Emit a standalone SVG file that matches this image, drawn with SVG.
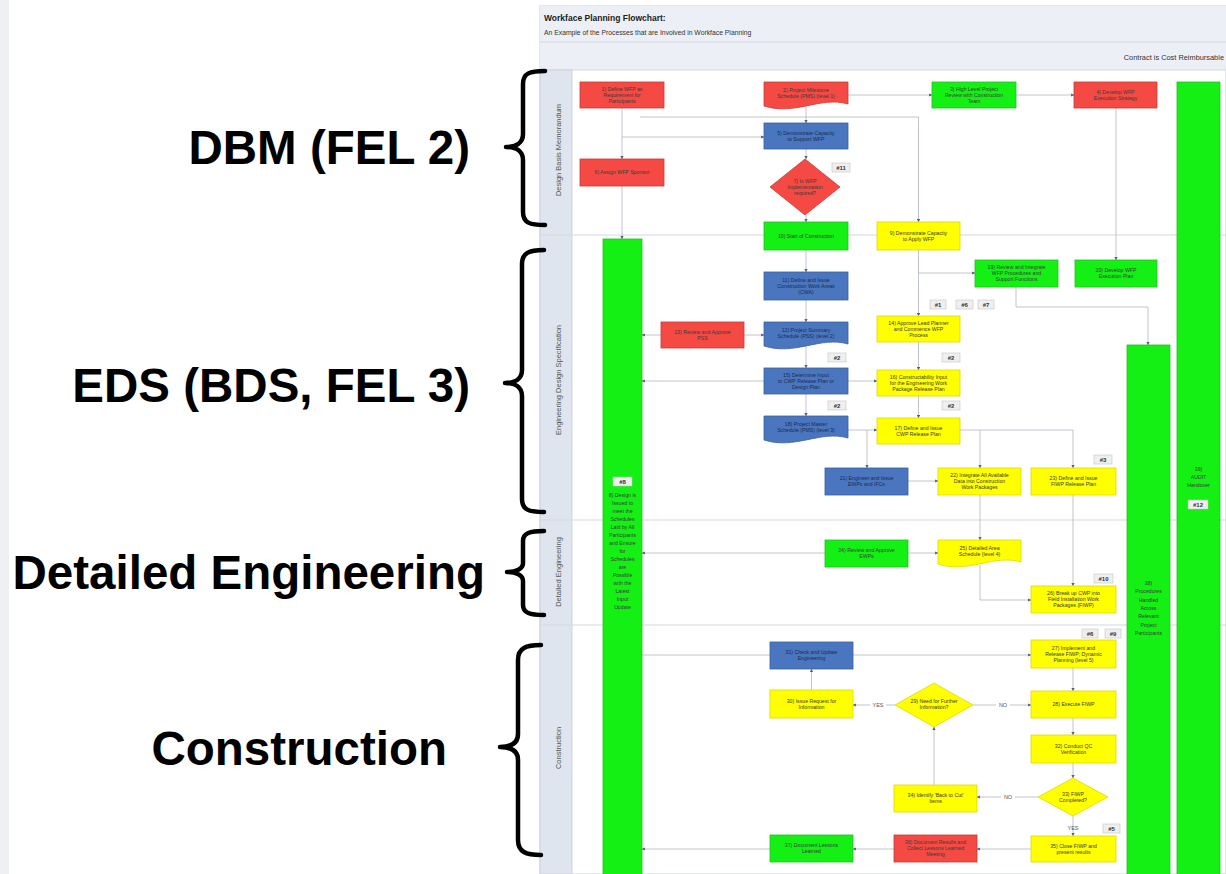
<svg xmlns="http://www.w3.org/2000/svg" width="1226" height="874" viewBox="0 0 1226 874">
<defs>
<marker id="a" viewBox="0 0 6 6" refX="5.5" refY="3" markerWidth="4" markerHeight="4" orient="auto"><path d="M0,0 L6,3 L0,6 z" fill="#55607a"/></marker>
<style>
.r{fill:#f54a44;stroke:#c83a36;stroke-width:0.8}
.g{fill:#14f014;stroke:#22c022;stroke-width:0.8}
.b{fill:#4a76bf;stroke:#3a5f9e;stroke-width:0.8}
.y{fill:#ffff00;stroke:#e0d800;stroke-width:0.8}
.t{font-family:"Liberation Sans",Arial,sans-serif;font-size:5.2px;fill:#3a3a3a;text-anchor:middle}
.tb{font-family:"Liberation Sans",Arial,sans-serif;font-size:5.2px;fill:#1c2a50;text-anchor:middle}
.tag{fill:#efefef;stroke:#c4c4c4;stroke-width:0.6}
.tagt{font-family:"Liberation Sans",Arial,sans-serif;font-size:6px;font-weight:bold;fill:#333;text-anchor:middle}
.ca{fill:none;stroke:#b0b5c0;stroke-width:0.8;marker-end:url(#a)}
.lbl{font-family:"Liberation Sans",Arial,sans-serif;font-size:5.5px;fill:#555;text-anchor:middle}
.lane{font-family:"Liberation Sans",Arial,sans-serif;font-size:7.5px;fill:#555;text-anchor:middle}
.big{font-family:"Liberation Sans",Arial,sans-serif;font-size:47.5px;font-weight:bold;fill:#000;text-anchor:end}
.brace{fill:none;stroke:#000;stroke-width:4.5;stroke-linecap:round;stroke-linejoin:round}
.sep{stroke:#d3d7df;stroke-width:1.2}
</style>
</defs>
<rect width="1226" height="874" fill="#ffffff"/>
<rect x="0" y="0" width="9" height="874" fill="#eef0f4"/>

<g id="chart-frame">
<rect x="540" y="6" width="686" height="868" fill="#ffffff" stroke="#c9ced8" stroke-width="1"/>
<rect x="540" y="6" width="686" height="64" fill="#eceff5"/>
<line x1="540" y1="42" x2="1226" y2="42" class="sep"/>
<line x1="540" y1="70" x2="1226" y2="70" class="sep"/>
<rect x="540" y="70" width="32" height="804" fill="#dfe5ef" stroke="#c9ced8" stroke-width="0.8"/>
<line x1="540" y1="235" x2="1226" y2="235" class="sep"/>
<line x1="540" y1="520" x2="1226" y2="520" class="sep"/>
<line x1="540" y1="625" x2="1226" y2="625" class="sep"/>
<text x="544" y="21" font-family="Liberation Sans, Arial, sans-serif" font-size="8.5" font-weight="bold" fill="#222">Workface Planning Flowchart:</text>
<text x="544" y="35" font-family="Liberation Sans, Arial, sans-serif" font-size="6.8" fill="#333">An Example of the Processes that are Involved in Workface Planning</text>
<text x="1224" y="60" font-family="Liberation Sans, Arial, sans-serif" font-size="7.4" fill="#333" text-anchor="end">Contract is Cost Reimbursable</text>
<text class="lane" transform="translate(561,150) rotate(-90)">Design Basis Memorandum</text>
<text class="lane" transform="translate(561,380) rotate(-90)">Engineering Design Specification</text>
<text class="lane" transform="translate(561,572) rotate(-90)">Detailed Engineering</text>
<text class="lane" transform="translate(561,748) rotate(-90)">Construction</text>
</g>

<g id="phase-dbm">
<text class="big" x="470" y="164">DBM (FEL 2)</text>
<path class="brace" d="M545,71 C530,71 523,73 523,84 L523,134 C523,143 516,147 506,147 C516,147 523,151 523,160 L523,212 C523,223 530,225 545,225"/>
</g>
<g id="phase-eds">
<text class="big" x="470" y="402">EDS (BDS, FEL 3)</text>
<path class="brace" d="M544,250 C529,250 522,253 522,264 L522,370 C522,379 515,383 505,383 C515,383 522,387 522,396 L522,499 C522,510 529,512 544,512"/>
</g>
<g id="phase-det">
<text class="big" x="485" y="589">Detailed Engineering</text>
<path class="brace" d="M544,531 C530,531 523,533 523,541 L523,563 C523,569 516,572 507,572 C516,572 523,575 523,581 L523,605 C523,613 530,615 544,615"/>
</g>
<g id="phase-con">
<text class="big" x="447" y="765">Construction</text>
<path class="brace" d="M541,645 C526,645 518,648 518,660 L518,734 C518,743 511,747 500,747 C511,747 518,751 518,760 L518,840 C518,852 526,855 541,855"/>
</g>

<g id="connectors">
<path class="ca" d="M848,95 H932"/>
<path class="ca" d="M1016,95 H1074"/>
<path class="ca" d="M806,106 V123"/>
<path class="ca" d="M806,149 V159"/>
<path class="ca" d="M806,215 V222"/>
<path class="ca" d="M806,250 V272"/>
<path class="ca" d="M806,300 V322"/>
<path class="ca" d="M806,345 V368"/>
<path class="ca" d="M806,394 V416"/>
<path class="ca" d="M622,108 V159"/>
<path class="ca" d="M622,186 V239"/>
<path class="ca" d="M622,137 H764"/>
<path class="ca" d="M640,117 H918.5 V222"/>
<path class="ca" d="M1116,108 V260"/>
<path class="ca" d="M918.5,250 V316"/>
<path class="ca" d="M918.5,273 H975"/>
<path class="ca" d="M1016,287 V307 H1148 V345"/>
<path class="ca" d="M744,335 H764"/>
<path class="ca" d="M661,335 H642"/>
<path class="ca" d="M764,381 H642"/>
<path class="ca" d="M848,381 H877"/>
<path class="ca" d="M918.5,342 V370"/>
<path class="ca" d="M918.5,396 V418"/>
<path class="ca" d="M848,430 H877"/>
<path class="ca" d="M867,430 V468"/>
<path class="ca" d="M960,430 H1073 V468"/>
<path class="ca" d="M980,430 V468"/>
<path class="ca" d="M980,495 V540"/>
<path class="ca" d="M980,565 V600 H1031"/>
<path class="ca" d="M1073,495 V586"/>
<path class="ca" d="M908,481 H938"/>
<path class="ca" d="M908,553 H938"/>
<path class="ca" d="M825,553 H642"/>
<path class="ca" d="M642,655 H1031"/>
<path class="ca" d="M811.5,690 V669"/>
<path class="ca" d="M895,705 H853"/>
<path class="ca" d="M973,705 H1031"/>
<path class="ca" d="M1073,668 V691"/>
<path class="ca" d="M1073,718 V735"/>
<path class="ca" d="M1073,763 V778"/>
<path class="ca" d="M1038,797 H977"/>
<path class="ca" d="M934,785 V727"/>
<path class="ca" d="M1073,816 V836"/>
<path class="ca" d="M1031,849 H977"/>
<path class="ca" d="M894,849 H853"/>
<path class="ca" d="M770,849 H642"/>
<rect x="870" y="701" width="16" height="8" fill="#fff"/>
<text class="lbl" x="878" y="707">YES</text>
<rect x="996" y="701" width="14" height="8" fill="#fff"/>
<text class="lbl" x="1003" y="707">NO</text>
<rect x="1001" y="793" width="14" height="8" fill="#fff"/>
<text class="lbl" x="1008" y="799">NO</text>
<text class="lbl" x="1073" y="830">YES</text>
</g>

<g id="n1"><rect class="r" x="580" y="82" width="84" height="26"/><text class="t" x="622" y="90.8">1) Define WFP as</text><text class="t" x="622" y="96.8">Requirement for</text><text class="t" x="622" y="102.8">Participants</text></g>
<g id="n2"><path class="r" d="M764,82 H848 V104 C820,96 795,116 764,106 Z"/><text class="t" x="806" y="91.8">2) Project Milestone</text><text class="t" x="806" y="97.8">Schedule (PMS) (level 1)</text></g>
<g id="n3"><rect class="g" x="932" y="82" width="84" height="26"/><text class="t" x="974" y="90.8">3) High Level Project</text><text class="t" x="974" y="96.8">Review with Construction</text><text class="t" x="974" y="102.8">Team</text></g>
<g id="n4"><rect class="r" x="1074" y="82" width="83" height="26"/><text class="t" x="1115.5" y="93.8">4) Develop WFP</text><text class="t" x="1115.5" y="99.8">Execution Strategy</text></g>
<g id="n5"><rect class="b" x="764" y="123" width="84" height="26"/><text class="tb" x="806" y="134.8">5) Demonstrate Capacity</text><text class="tb" x="806" y="140.8">to Support WFP</text></g>
<g id="n6"><rect class="r" x="580" y="159" width="84" height="27"/><text class="t" x="622" y="174.3">6) Assign WFP Sponsor</text></g>
<g id="n7"><polygon class="r" points="805,159 840,187 805,215 770,187"/><text class="t" x="805" y="182.8">7) Is WFP</text><text class="t" x="805" y="188.8">implementation</text><text class="t" x="805" y="194.8">required?</text></g>
<g id="tag11"><rect class="tag" x="832" y="163" width="18" height="9"/><text class="tagt" x="841" y="170">#11</text></g>
<g id="n10"><rect class="g" x="764" y="222" width="84" height="28"/><text class="t" x="806" y="237.8">10) Start of Construction</text></g>
<g id="n9"><rect class="y" x="877" y="222" width="83" height="28"/><text class="t" x="918.5" y="234.8">9) Demonstrate Capacity</text><text class="t" x="918.5" y="240.8">to Apply WFP</text></g>

<g id="n8"><rect class="g" x="603" y="239" width="39" height="640"/>
<rect class="tag" x="613" y="477" width="19" height="9"/><text class="tagt" x="622.5" y="484">#8</text>
<text class="t" x="622.5" y="497">8) Design is</text><text class="t" x="622.5" y="505">Issued to</text><text class="t" x="622.5" y="513">meet the</text><text class="t" x="622.5" y="521">Schedules</text><text class="t" x="622.5" y="529">Laid by All</text><text class="t" x="622.5" y="537">Participants</text><text class="t" x="622.5" y="545">and Ensure</text><text class="t" x="622.5" y="553">for</text><text class="t" x="622.5" y="561">Schedules</text><text class="t" x="622.5" y="569">are</text><text class="t" x="622.5" y="577">Possible</text><text class="t" x="622.5" y="585">with the</text><text class="t" x="622.5" y="593">Latest</text><text class="t" x="622.5" y="601">Input</text><text class="t" x="622.5" y="609">Update</text></g>
<g id="n38"><rect class="g" x="1127" y="345" width="43" height="534"/>
<text class="t" x="1148.5" y="585">38)</text><text class="t" x="1148.5" y="593">Procedures</text><text class="t" x="1148.5" y="602">Handled</text><text class="t" x="1148.5" y="610">Across</text><text class="t" x="1148.5" y="618">Relevant</text><text class="t" x="1148.5" y="627">Project</text><text class="t" x="1148.5" y="635">Participants</text></g>
<g id="n39"><rect class="g" x="1177" y="82" width="43" height="797"/>
<text class="t" x="1198.5" y="471">39)</text><text class="t" x="1198.5" y="479">AUDIT</text><text class="t" x="1198.5" y="487">Handover</text>
<rect class="tag" x="1188" y="500" width="20" height="9"/><text class="tagt" x="1198" y="507">#12</text></g>

<g id="n11"><rect class="b" x="764" y="272" width="84" height="28"/><text class="tb" x="806" y="281.8">11) Define and Issue</text><text class="tb" x="806" y="287.8">Construction Work Areas</text><text class="tb" x="806" y="293.8">(CWA)</text></g>
<g id="n19"><rect class="g" x="975" y="260" width="83" height="27"/><text class="t" x="1016.5" y="269.3">19) Review and Integrate</text><text class="t" x="1016.5" y="275.3">WFP Procedures and</text><text class="t" x="1016.5" y="281.3">Support Functions</text></g>
<g id="n20"><rect class="g" x="1075" y="260" width="82" height="27"/><text class="t" x="1116" y="272.3">20) Develop WFP</text><text class="t" x="1116" y="278.3">Execution Plan</text></g>
<g id="tags-1-6-7"><rect class="tag" x="930" y="300" width="16" height="9"/><text class="tagt" x="938" y="307">#1</text><rect class="tag" x="956" y="300" width="17" height="9"/><text class="tagt" x="964.5" y="307">#6</text><rect class="tag" x="978" y="300" width="16" height="9"/><text class="tagt" x="986" y="307">#7</text></g>
<g id="n13"><rect class="r" x="661" y="322" width="83" height="26"/><text class="t" x="702.5" y="333.8">13) Review and Approve</text><text class="t" x="702.5" y="339.8">PSS</text></g>
<g id="n12"><path class="b" d="M764,322 H848 V344 C820,336 795,356 764,346 Z"/><text class="tb" x="806" y="331.8">12) Project Summary</text><text class="tb" x="806" y="337.8">Schedule (PSS) (level 2)</text></g>
<g id="n14"><rect class="y" x="877" y="316" width="83" height="26"/><text class="t" x="918.5" y="324.8">14) Approve Lead Planner</text><text class="t" x="918.5" y="330.8">and Commence WFP</text><text class="t" x="918.5" y="336.8">Process</text></g>
<g id="tags-2a"><rect class="tag" x="828" y="353" width="18" height="9"/><text class="tagt" x="837" y="360">#2</text><rect class="tag" x="942" y="353" width="18" height="9"/><text class="tagt" x="951" y="360">#2</text></g>
<g id="n15"><rect class="b" x="764" y="368" width="84" height="26"/><text class="tb" x="806" y="376.8">15) Determine Input</text><text class="tb" x="806" y="382.8">to CWP Release Plan or</text><text class="tb" x="806" y="388.8">Design Plan</text></g>
<g id="n16"><rect class="y" x="877" y="370" width="83" height="26"/><text class="t" x="918.5" y="378.8">16) Constructability Input</text><text class="t" x="918.5" y="384.8">for the Engineering Work</text><text class="t" x="918.5" y="390.8">Package Release Plan</text></g>
<g id="tags-2b"><rect class="tag" x="828" y="401" width="18" height="9"/><text class="tagt" x="837" y="408">#2</text><rect class="tag" x="942" y="401" width="18" height="9"/><text class="tagt" x="951" y="408">#2</text></g>
<g id="n18"><path class="b" d="M764,416 H848 V438 C820,430 795,450 764,440 Z"/><text class="tb" x="806" y="425.8">18) Project Master</text><text class="tb" x="806" y="431.8">Schedule (PMS) (level 3)</text></g>
<g id="n17"><rect class="y" x="877" y="418" width="83" height="26"/><text class="t" x="918.5" y="429.8">17) Define and Issue</text><text class="t" x="918.5" y="435.8">CWP Release Plan</text></g>
<g id="n21"><rect class="b" x="825" y="468" width="83" height="27"/><text class="tb" x="866.5" y="480.3">21) Engineer and Issue</text><text class="tb" x="866.5" y="486.3">EWPs and IFCs</text></g>
<g id="n22"><rect class="y" x="938" y="468" width="83" height="27"/><text class="t" x="979.5" y="477.3">22) Integrate All Available</text><text class="t" x="979.5" y="483.3">Data into Construction</text><text class="t" x="979.5" y="489.3">Work Packages</text></g>
<g id="n23"><rect class="y" x="1031" y="468" width="85" height="27"/><text class="t" x="1073.5" y="480.3">23) Define and Issue</text><text class="t" x="1073.5" y="486.3">FIWP Release Plan</text></g>
<g id="tag3"><rect class="tag" x="1094" y="455" width="18" height="9"/><text class="tagt" x="1103" y="462">#3</text></g>

<g id="n24"><rect class="g" x="825" y="540" width="83" height="27"/><text class="t" x="866.5" y="552.3">24) Review and Approve</text><text class="t" x="866.5" y="558.3">EWPs</text></g>
<g id="n25"><path class="y" d="M938,540 H1021 V562 C993,554 968,574 938,564 Z"/><text class="t" x="979.5" y="549.8">25) Detailed Area</text><text class="t" x="979.5" y="555.8">Schedule (level 4)</text></g>
<g id="tag10"><rect class="tag" x="1094" y="574" width="19" height="9"/><text class="tagt" x="1103.5" y="581">#10</text></g>
<g id="n26"><rect class="y" x="1031" y="586" width="85" height="27"/><text class="t" x="1073.5" y="595.3">26) Break up CWP into</text><text class="t" x="1073.5" y="601.3">Field Installation Work</text><text class="t" x="1073.5" y="607.3">Packages (FIWP)</text></g>

<g id="tags-6-9"><rect class="tag" x="1082" y="629" width="16" height="9"/><text class="tagt" x="1090" y="636">#6</text><rect class="tag" x="1105" y="629" width="16" height="9"/><text class="tagt" x="1113" y="636">#9</text></g>
<g id="n31"><rect class="b" x="770" y="642" width="83" height="27"/><text class="tb" x="811.5" y="654.3">31) Check and Update</text><text class="tb" x="811.5" y="660.3">Engineering</text></g>
<g id="n27"><rect class="y" x="1031" y="640" width="85" height="28"/><text class="t" x="1073.5" y="649.8">27) Implement and</text><text class="t" x="1073.5" y="655.8">Release FIWP; Dynamic</text><text class="t" x="1073.5" y="661.8">Planning (level 5)</text></g>
<g id="n30"><rect class="y" x="770" y="690" width="83" height="28"/><text class="t" x="811.5" y="702.8">30) Issue Request for</text><text class="t" x="811.5" y="708.8">Information</text></g>
<g id="n29"><polygon class="y" points="934,683 973,705 934,727 895,705"/><text class="t" x="934" y="702.8">29) Need for Further</text><text class="t" x="934" y="708.8">Information?</text></g>
<g id="n28"><rect class="y" x="1031" y="691" width="85" height="27"/><text class="t" x="1073.5" y="706.3">28) Execute FIWP</text></g>
<g id="n32"><rect class="y" x="1031" y="735" width="85" height="28"/><text class="t" x="1073.5" y="747.8">32) Conduct QC</text><text class="t" x="1073.5" y="753.8">Verification</text></g>
<g id="n33"><polygon class="y" points="1073,778 1108,797 1073,816 1038,797"/><text class="t" x="1073" y="795.8">33) FIWP</text><text class="t" x="1073" y="801.8">Completed?</text></g>
<g id="n34"><rect class="y" x="894" y="785" width="83" height="27"/><text class="t" x="935.5" y="797.3">34) Identify 'Back to Cut'</text><text class="t" x="935.5" y="803.3">Items</text></g>
<g id="tag5"><rect class="tag" x="1103" y="824" width="17" height="9"/><text class="tagt" x="1111.5" y="831">#5</text></g>
<g id="n35"><rect class="y" x="1031" y="836" width="85" height="26"/><text class="t" x="1073.5" y="847.8">35) Close FIWP and</text><text class="t" x="1073.5" y="853.8">present results</text></g>
<g id="n36"><rect class="r" x="894" y="835" width="83" height="27"/><text class="t" x="935.5" y="844.3">36) Document Results and</text><text class="t" x="935.5" y="850.3">Collect Lessons Learned</text><text class="t" x="935.5" y="856.3">Meeting</text></g>
<g id="n37"><rect class="g" x="770" y="835" width="83" height="27"/><text class="t" x="811.5" y="847.3">37) Document Lessons</text><text class="t" x="811.5" y="853.3">Learned</text></g>
</svg>
